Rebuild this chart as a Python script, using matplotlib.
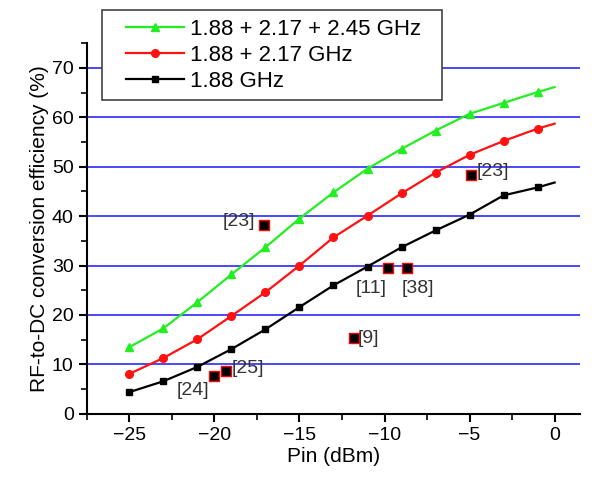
# coding: utf-8
import numpy as np
import matplotlib
matplotlib.use("Agg")
import matplotlib.pyplot as plt
from matplotlib.patches import Rectangle
from matplotlib.ticker import MultipleLocator

plt.rcParams['font.family'] = ['Liberation Sans', 'DejaVu Sans']

# input power (dBm), last point at 0 dBm carries no marker
pin = [-25, -23, -21, -19, -17, -15, -13, -11, -9, -7, -5, -3, -1, 0]
eff_3band = [13.5, 17.3, 22.6, 28.2, 33.7, 39.5, 44.8, 49.6, 53.6, 57.3, 60.7, 62.9, 65.1, 66.1]
eff_2band = [8.1, 11.3, 15.1, 19.8, 24.6, 30.0, 35.7, 40.1, 44.6, 48.8, 52.4, 55.2, 57.7, 58.7]
eff_1band = [4.4, 6.6, 9.5, 13.1, 17.1, 21.6, 26.0, 29.8, 33.7, 37.1, 40.3, 44.2, 45.8, 46.8]

# literature comparison points
ref_labels = ["[23]", "[11]", "[38]", "[9]", "[24]", "[25]", "[23]"]
ref_pin = [-17.1, -9.8, -8.7, -11.8, -20.0, -19.3, -4.9]
ref_eff = [38.3, 29.6, 29.6, 15.3, 7.6, 8.7, 48.4]

W, H = 595, 479
fig = plt.figure(figsize=(W / 100, H / 100), dpi=100)
ax = fig.add_axes([0.146, 0.136, 0.829, 0.774])

ax.set_xlim(-27.5, 1.5)
ax.set_ylim(0, 75)
ax.yaxis.grid(True, color='#2a2aff', lw=1.2)
ax.set_axisbelow(True)

mk = list(range(len(pin) - 1))
ax.plot(pin, eff_3band, color='#22ee22', lw=1.6, marker='^', ms=6, markevery=mk,
        label='1.88 + 2.17 + 2.45 GHz')
ax.plot(pin, eff_2band, color='#ff1111', lw=1.6, marker='o', ms=5.5, markevery=mk,
        label='1.88 + 2.17 GHz')
ax.plot(pin, eff_1band, color='black', lw=1.6, marker='s', ms=5, markevery=mk,
        label='1.88 GHz')

ax.scatter(ref_pin, ref_eff, marker='s', s=60, c='black', edgecolors='red',
           linewidths=1.0, zorder=5)
# (dx, dy) in points, alignment
offsets = [(-6, 2, 'right', 'center'), (-12, -9, 'center', 'top'),
           (8, -9, 'center', 'top'), (3, 0, 'left', 'center'),
           (-4, -4, 'right', 'top'), (4, 2, 'left', 'center'),
           (4, 2, 'left', 'center')]
for lab, x, y, (dx, dy, ha, va) in zip(ref_labels, ref_pin, ref_eff, offsets):
    ax.annotate(lab, (x, y), xytext=(dx, dy), textcoords='offset points',
                ha=ha, va=va, fontsize=14, color='#333333')

ax.xaxis.set_major_locator(MultipleLocator(5))
ax.xaxis.set_minor_locator(MultipleLocator(2.5))
ax.yaxis.set_major_locator(MultipleLocator(10))
ax.yaxis.set_minor_locator(MultipleLocator(5))
ax.tick_params(which='major', direction='out', length=6, width=1.5, labelsize=14)
ax.tick_params(which='minor', direction='out', length=4, width=1.2)

for s in ['top', 'right']:
    ax.spines[s].set_visible(False)
for s in ['left', 'bottom']:
    ax.spines[s].set_linewidth(1.5)

ax.set_xlabel('Pin (dBm)', fontsize=15, labelpad=2)
ax.set_ylabel('RF-to-DC conversion efficiency (%)', fontsize=15, labelpad=2)

# legend without its own frame; the white box is drawn separately under it
leg = ax.legend(loc='upper left', bbox_to_anchor=(126 / W, 1 - 19 / H),
                bbox_transform=fig.transFigure, borderaxespad=0, borderpad=0,
                fontsize=16, frameon=False, handlelength=2.6,
                handletextpad=0.3, labelspacing=0.22)
box = Rectangle((102 / W, 1 - 100 / H), 340 / W, 90 / H,
                transform=fig.transFigure, facecolor='white',
                edgecolor='#444444', lw=1.2, zorder=4.5, clip_on=False)
ax.add_patch(box)

fig.savefig('out.png', dpi=100)
